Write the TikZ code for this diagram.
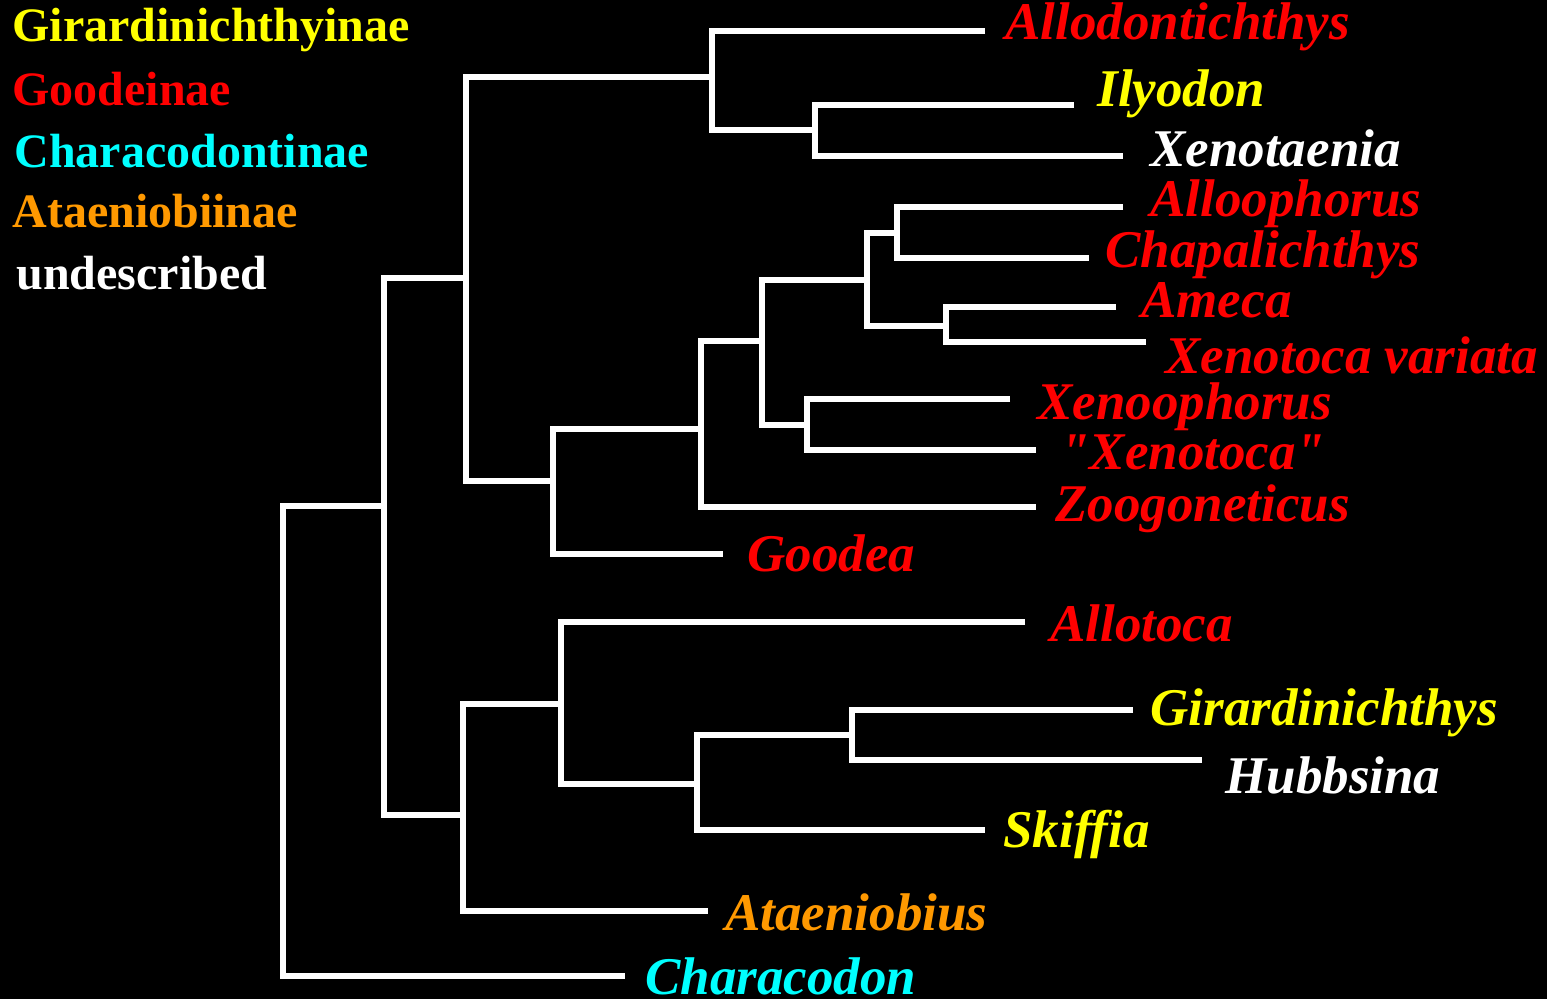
\documentclass[tikz,border=0pt]{standalone}
\usepackage{fontspec}
\setmainfont{Liberation Serif}[Ligatures=TeXOff]
\definecolor{TaxRed}{HTML}{FF0000}
\definecolor{TaxYellow}{HTML}{FFFF00}
\definecolor{TaxCyan}{HTML}{00FFFF}
\definecolor{TaxOrange}{HTML}{FF9900}
\tikzset{branch/.style={draw=white,line width=3pt,line join=miter},
  taxon/.style={inner sep=0pt,anchor=base west,font=\fontsize{26.5}{30}\selectfont\bfseries\itshape},
  subfam/.style={inner sep=0pt,anchor=base west,font=\fontsize{24}{28}\selectfont\bfseries}}

\begin{document}
\begin{tikzpicture}[x=0.5pt,y=-0.5pt]
\fill[black] (0,0) rectangle (1547,999);
\useasboundingbox (0,0) rectangle (1547,999);
% legend
\node[subfam,text=TaxYellow] (girardinae) at (12,42) {Girardinichthyinae};
\node[subfam,text=TaxRed] (goodeinae) at (12,106) {Goodeinae};
\node[subfam,text=TaxCyan] (characinae) at (14,168) {Characodontinae};
\node[subfam,text=TaxOrange] (ataeninae) at (12,228) {Ataeniobiinae};
\node[subfam,text=white] (undescr) at (16,290) {undescribed};
% taxa
\node[taxon,text=TaxRed] (allodont) at (1005,40) {Allodontichthys};
\node[taxon,text=TaxYellow] (ilyodon) at (1097,107) {Ilyodon};
\node[taxon,text=white] (xenotaenia) at (1150,167) {Xenotaenia};
\node[taxon,text=TaxRed] (alloph) at (1150,217) {Alloophorus};
\node[taxon,text=TaxRed] (chapal) at (1105,268) {Chapalichthys};
\node[taxon,text=TaxRed] (ameca) at (1141,318) {Ameca};
\node[taxon,text=TaxRed] (variata) at (1165,374) {Xenotoca variata};
\node[taxon,text=TaxRed] (xenooph) at (1037,420) {Xenoophorus};
\node[taxon,text=TaxRed] (xenotoca) at (1060,470) {"Xenotoca"};
\node[taxon,text=TaxRed] (zoogon) at (1055,522) {Zoogoneticus};
\node[taxon,text=TaxRed] (goodea) at (747,572) {Goodea};
\node[taxon,text=TaxRed] (allotoca) at (1050,641) {Allotoca};
\node[taxon,text=TaxYellow] (girard) at (1150,725) {Girardinichthys};
\node[taxon,text=white] (hubbs) at (1225,793) {Hubbsina};
\node[taxon,text=TaxYellow] (skiffia) at (1003,847) {Skiffia};
\node[taxon,text=TaxOrange] (ataen) at (725,930) {Ataeniobius};
\node[taxon,text=TaxCyan] (characodon) at (645,994) {Characodon};
% branch tips
\coordinate (allodont-e) at (985,31);   \coordinate (ilyodon-e) at (1074,105);
\coordinate (xenotaenia-e) at (1123,156); \coordinate (alloph-e) at (1123,207);
\coordinate (chapal-e) at (1089,258);   \coordinate (ameca-e) at (1116,307);
\coordinate (variata-e) at (1146,342);  \coordinate (xenooph-e) at (1010,399);
\coordinate (xenotoca-e) at (1036,450); \coordinate (zoogon-e) at (1036,507);
\coordinate (goodea-e) at (723,554);    \coordinate (allotoca-e) at (1025,622);
\coordinate (girard-e) at (1133,710);   \coordinate (hubbs-e) at (1202,760);
\coordinate (skiffia-e) at (985,830);   \coordinate (ataen-e) at (708,911);
\coordinate (characodon-e) at (625,976);
% internal nodes
\coordinate (root) at (283,740);  \coordinate (nA) at (384,506);  \coordinate (nB) at (466,278);
\coordinate (nC) at (463,815);    \coordinate (nD) at (712,77);   \coordinate (nE) at (553,481);
\coordinate (nF) at (815,130);    \coordinate (nG) at (701,429);  \coordinate (nH) at (762,341);
\coordinate (nI) at (867,280);    \coordinate (nJ) at (807,425);  \coordinate (nK) at (897,233);
\coordinate (nL) at (946,326);    \coordinate (nM) at (561,704);  \coordinate (nN) at (697,784);
\coordinate (nO) at (852,735);
% tree
\draw[branch] (nA) -| (root) |- (characodon-e); \draw[branch] (nB) -| (nA) |- (nC);
\draw[branch] (nD) -| (nB) |- (nE); \draw[branch] (allodont-e) -| (nD) |- (nF);
\draw[branch] (ilyodon-e) -| (nF) |- (xenotaenia-e); \draw[branch] (nG) -| (nE) |- (goodea-e);
\draw[branch] (nH) -| (nG) |- (zoogon-e); \draw[branch] (nI) -| (nH) |- (nJ);
\draw[branch] (nK) -| (nI) |- (nL); \draw[branch] (alloph-e) -| (nK) |- (chapal-e);
\draw[branch] (ameca-e) -| (nL) |- (variata-e); \draw[branch] (xenooph-e) -| (nJ) |- (xenotoca-e);
\draw[branch] (nM) -| (nC) |- (ataen-e); \draw[branch] (allotoca-e) -| (nM) |- (nN);
\draw[branch] (nO) -| (nN) |- (skiffia-e); \draw[branch] (girard-e) -| (nO) |- (hubbs-e);
\end{tikzpicture}
\end{document}
